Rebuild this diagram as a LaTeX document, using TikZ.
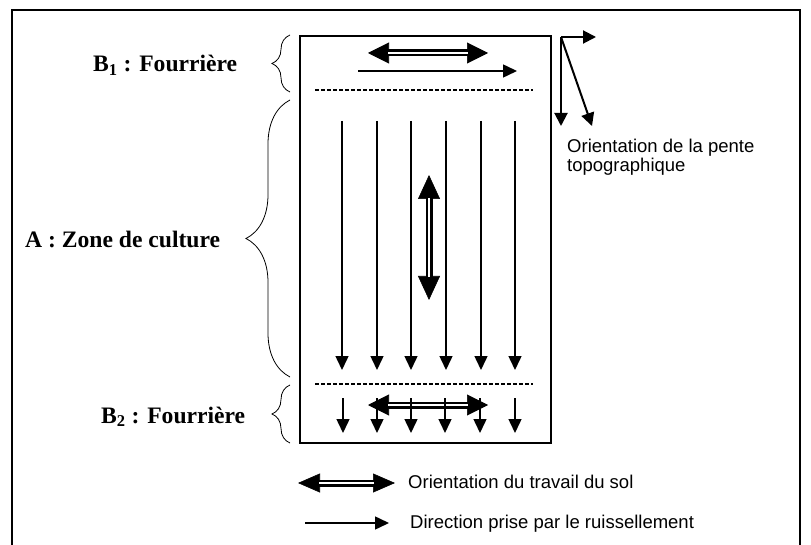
\documentclass[tikz,border=0pt]{standalone}
\usepackage{fontspec}
\setmainfont{Liberation Serif}
\newfontfamily\arialish{Liberation Sans}
\usetikzlibrary{arrows.meta,decorations.pathreplacing}
\newcommand\tillage[5]{% #1 head length, #2 head width, #3 shorten, #4 from, #5 to
  \draw[line width=0.6pt, {Triangle[length=#1,width=#2]}-{Triangle[length=#1,width=#2]}] (#4) -- (#5);
  \draw[line width=7pt, shorten <=#3, shorten >=#3] (#4) -- (#5);
  \draw[white, line width=2pt, shorten <=#3, shorten >=#3] (#4) -- (#5);
}
\begin{document}
\begin{tikzpicture}[x=1pt,y=-1pt,
  frame/.style={line width=2pt},
  flow/.style={line width=1.5pt,-{Triangle[length=14pt,width=13pt]}},
  slope/.style={line width=2pt,-{Triangle[length=13pt,width=13pt]}},
  headland/.style={line width=2pt,dash pattern=on 4pt off 2pt},
  lbl/.style={font=\fontsize{23.6}{25}\selectfont\bfseries, inner sep=0pt, anchor=base west},
  note/.style={font=\arialish\fontsize{18.5}{20}\selectfont, inner sep=0pt, anchor=base west},
  bracestyle/.style={decorate, decoration={brace, amplitude=#1}, line width=0.8pt},
]
\useasboundingbox (0,0) rectangle (811,545);
% outer frame
\draw[frame] (12,545) -- (12,10) -- (800,10) -- (800,545);
% field
\node[draw, frame, inner sep=0pt, minimum width=251pt, minimum height=407pt, anchor=north west] (field) at (299,35) {};
% headland dashed limits
\coordinate (d1a) at (315,90); \coordinate (d1b) at (533,90);
\coordinate (d2a) at (315,384); \coordinate (d2b) at (533,384);
\draw[headland] (d1a) -- (d1b);
\draw[headland] (d2a) -- (d2b);
% labels
\node[lbl] (b1) at (93,72) {B\textsubscript{1} : Fourrière};
\node[lbl] (za) at (25,248) {A : Zone de culture};
\node[lbl] (b2) at (101,423) {B\textsubscript{2} : Fourrière};
% braces
\coordinate (br1a) at (290,92); \coordinate (br1b) at (290,35);
\coordinate (br2a) at (290,377); \coordinate (br2b) at (290,100);
\coordinate (br3a) at (290,443); \coordinate (br3b) at (290,385);
\draw[bracestyle=18pt] (br1a) -- (br1b);
\draw[bracestyle=44pt] (br2a) -- (br2b);
\draw[bracestyle=18pt] (br3a) -- (br3b);
% top headland
\coordinate (t1a) at (368,53); \coordinate (t1b) at (488,53);
\tillage{21pt}{21pt}{20pt}{t1a}{t1b}
\coordinate (r1a) at (358,71); \coordinate (r1b) at (517,71);
\draw[flow] (r1a) -- (r1b);
% middle
\coordinate (m1a) at (429,175); \coordinate (m1b) at (429,300);
\tillage{24pt}{22pt}{23pt}{m1a}{m1b}
\foreach \x [count=\i] in {342,377,411,446,481,515} {
  \coordinate (va\i) at (\x,121); \coordinate (vb\i) at (\x,370);
  \draw[flow] (va\i) -- (vb\i);
}
% bottom headland
\coordinate (t2a) at (368,405); \coordinate (t2b) at (488,405);
\tillage{21pt}{21pt}{20pt}{t2a}{t2b}
\foreach \x [count=\i] in {343,377,411,445,480,515} {
  \coordinate (wa\i) at (\x,398); \coordinate (wb\i) at (\x,433);
  \draw[flow] (wa\i) -- (wb\i);
}
% slope orientation
\coordinate (s0) at (561,37);
\coordinate (sh) at (596,37); \coordinate (sv) at (561,126); \coordinate (sd) at (592,126);
\draw[slope] (s0) -- (sh);
\draw[slope] (s0) -- (sv);
\draw[slope] (s0) -- (sd);
\node[note] (pente1) at (567,153) {Orientation de la pente};
\node[note] (pente2) at (567,172) {topographique};
% legend
\coordinate (l1a) at (298,483); \coordinate (l1b) at (395,483);
\tillage{22pt}{19pt}{21pt}{l1a}{l1b}
\node[note] (leg1) at (408,488) {Orientation du travail du sol};
\coordinate (l2a) at (305,523); \coordinate (l2b) at (389,523);
\draw[flow] (l2a) -- (l2b);
\node[note] (leg2) at (410,528) {Direction prise par le ruissellement};
\end{tikzpicture}
\end{document}
